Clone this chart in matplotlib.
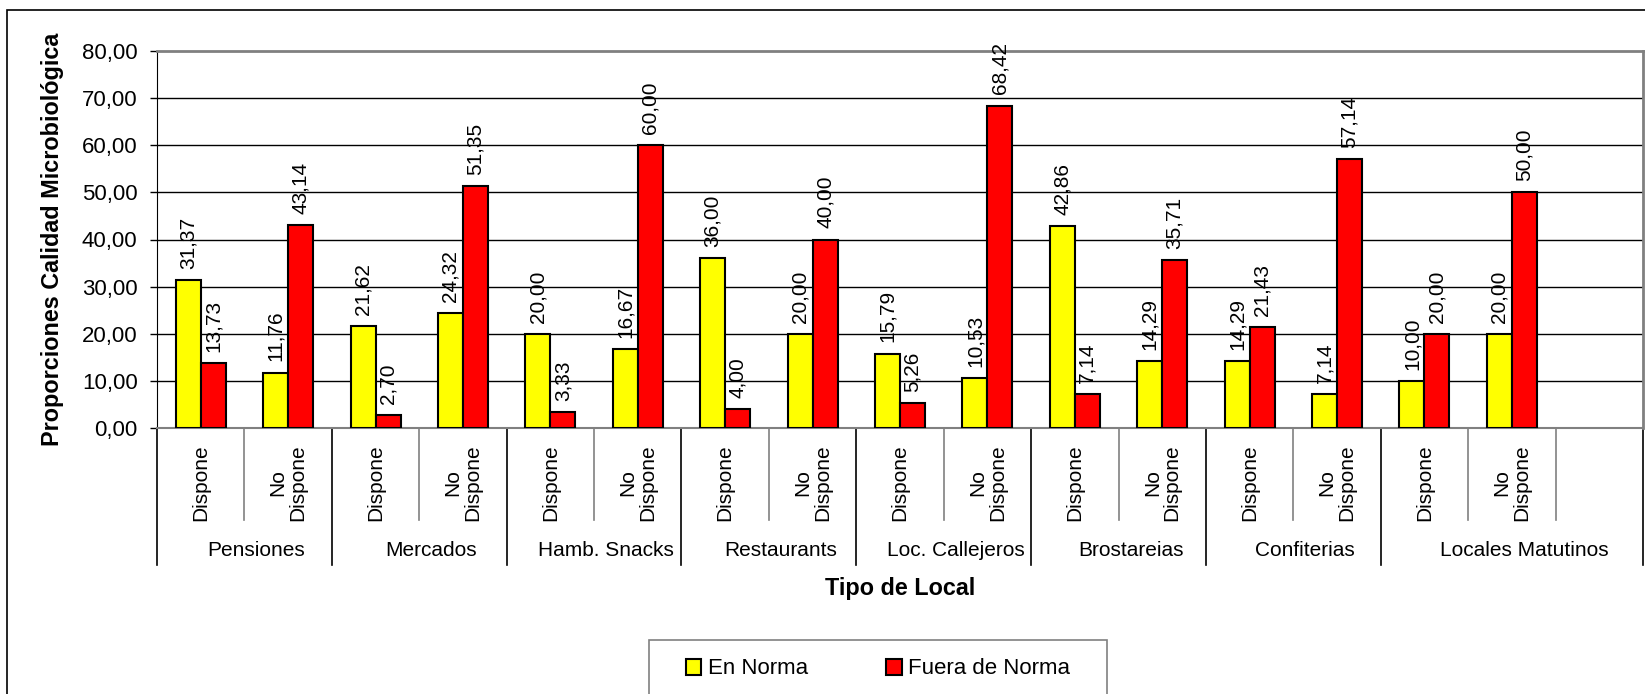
import matplotlib
matplotlib.use("Agg")
import matplotlib.pyplot as plt
import numpy as np
from matplotlib.patches import Rectangle
from matplotlib.transforms import blended_transform_factory

plt.rcParams['font.family'] = ['Liberation Sans', 'DejaVu Sans']

W, H = 1645, 694

grupos = ['Pensiones', 'Mercados', 'Hamb. Snacks', 'Restaurants',
          'Loc. Callejeros', 'Brostareias', 'Confiterias', 'Locales Matutinos']
subcat = ['Dispone', 'No\nDispone']
en_norma = [31.37, 11.76, 21.62, 24.32, 20.00, 16.67, 36.00, 20.00,
            15.79, 10.53, 42.86, 14.29, 14.29, 7.14, 10.00, 20.00]
fuera_norma = [13.73, 43.14, 2.70, 51.35, 3.33, 60.00, 4.00, 40.00,
               5.26, 68.42, 7.14, 35.71, 21.43, 57.14, 20.00, 50.00]
yticks = [0, 10, 20, 30, 40, 50, 60, 70, 80]


def fx(px):
    return px / W


def fy(py):
    return 1 - py / H


fig = plt.figure(figsize=(W / 100, H / 100), dpi=100)
ax = fig.add_axes([fx(157), fy(428), fx(1643) - fx(157), fy(51) - fy(428)])

n = len(en_norma)
nslots = n + 1  # one empty slot at the end of the category axis
x = np.arange(n)
bw = 1 / 3.5

b1 = ax.bar(x - bw / 2, en_norma, bw, color='#FFFF00', edgecolor='black',
            linewidth=1.5, label='En Norma', zorder=3)
b2 = ax.bar(x + bw / 2, fuera_norma, bw, color='#FF0000', edgecolor='black',
            linewidth=1.5, label='Fuera de Norma', zorder=3)

for bars in (b1, b2):
    for r in bars:
        v = r.get_height()
        ax.annotate(f'{v:.2f}'.replace('.', ','),
                    (r.get_x() + r.get_width() / 2, v),
                    xytext=(0, 8), textcoords='offset points',
                    rotation=90, ha='center', va='bottom', fontsize=15)

ax.set_xlim(-0.5, nslots - 0.5)
ax.set_ylim(0, 80)
ax.set_yticks(yticks)
ax.set_yticklabels([f'{t:.2f}'.replace('.', ',') for t in yticks], fontsize=16)
ax.tick_params(axis='y', direction='out', length=5, width=1, pad=9)
ax.set_xticks([])
for t in yticks[1:-1]:
    ax.axhline(t, color='black', linewidth=1, zorder=1)

for s in ('top', 'right'):
    ax.spines[s].set_color('#808080')
    ax.spines[s].set_linewidth(2)
ax.spines['left'].set_color('black')
ax.spines['bottom'].set_color('#808080')
ax.spines['bottom'].set_linewidth(1.5)

# two-level category axis below the plot
tr = blended_transform_factory(ax.transData, fig.transFigure)
y0 = fy(428)
group_edges = [2 * g for g in range(len(grupos))] + [nslots]
for k in range(nslots + 1):
    xb = k - 0.5
    if k in group_edges:
        ax.plot([xb, xb], [y0, fy(565)], color='black', lw=1.2,
                transform=tr, clip_on=False)
    else:
        ax.plot([xb, xb], [y0, fy(520)], color='#808080', lw=1.2,
                transform=tr, clip_on=False)

for i in range(n):
    ax.text(i, fy(444), subcat[i % 2], rotation=90, ha='center', va='top',
            multialignment='center', fontsize=15, transform=tr,
            linespacing=1.05)

for g, name in enumerate(grupos):
    left = group_edges[g] - 0.5
    right = group_edges[g + 1] - 0.5
    xc = (left + right) / 2 + 12 / 87.4
    ax.text(xc, fy(550), name, ha='center', va='center', fontsize=15,
            transform=tr)

fig.text(fx(53), fy(239), 'Proporciones Calidad Microbiológica', rotation=90,
         ha='center', va='center', fontsize=16.8, fontweight='bold')
fig.text(fx(900), fy(589), 'Tipo de Local', ha='center', va='center',
         fontsize=16.8, fontweight='bold')

# outer chart frame and legend frame
fig.add_artist(Rectangle((fx(7), fy(760)), 1.2, fy(10) - fy(760),
                         transform=fig.transFigure, fill=False,
                         edgecolor='black', linewidth=1.2))
fig.add_artist(Rectangle((fx(649), fy(700)), fx(1107) - fx(649),
                         fy(640) - fy(700), transform=fig.transFigure,
                         fill=False, edgecolor='#808080', linewidth=1.2))

fig.legend(handles=[b1, b2], loc='center', bbox_to_anchor=(fx(878), fy(669)),
           ncol=2, frameon=False, fontsize=16, handlelength=0.7,
           handleheight=0.7, handletextpad=0.3, columnspacing=3.5,
           borderpad=0, borderaxespad=0)

fig.savefig('out.png', dpi=100, facecolor='white')
